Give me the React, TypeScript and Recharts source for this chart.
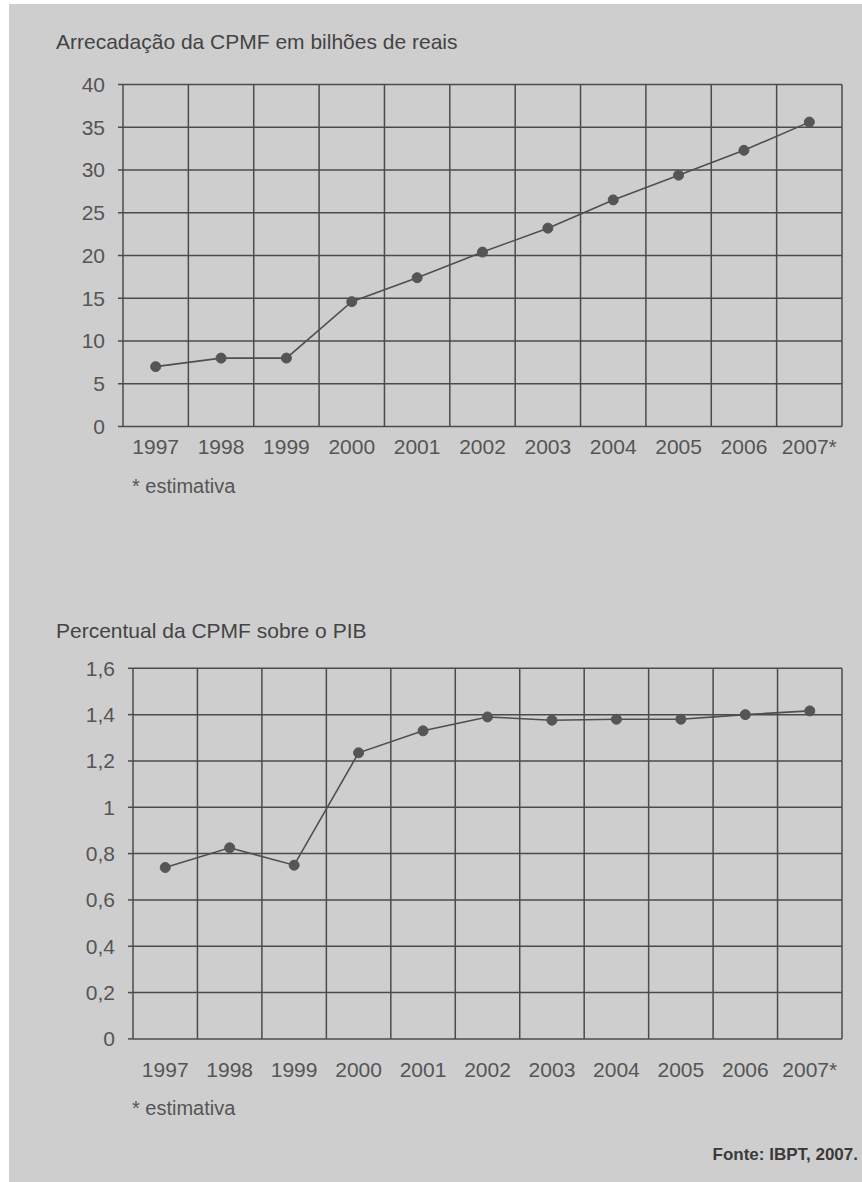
import { LineChart, Line, XAxis, YAxis, CartesianGrid } from 'recharts';

const years = ['1997', '1998', '1999', '2000', '2001', '2002', '2003', '2004', '2005', '2006', '2007*'];
const arrecadacao = [7.0, 8.0, 8.0, 14.6, 17.4, 20.4, 23.2, 26.5, 29.4, 32.3, 35.6];
const percentual = [0.74, 0.825, 0.75, 1.235, 1.33, 1.39, 1.376, 1.38, 1.38, 1.4, 1.416];

const arrecTicks = [0, 5, 10, 15, 20, 25, 30, 35, 40];
const percTicks = [0, 0.2, 0.4, 0.6, 0.8, 1, 1.2, 1.4, 1.6];

// year slots: grid lines on the slot edges, labels and points in the middle
const slotEdges = years.map((_, i) => i).concat(years.length);
const slotMids = years.map((_, i) => i + 0.5);

const arrecData = years.map((ano, i) => ({ ano, pos: slotMids[i], valor: arrecadacao[i] }));
const percData = years.map((ano, i) => ({ ano, pos: slotMids[i], valor: percentual[i] }));

const FONT = '"Liberation Sans", Arial, sans-serif';
const GRID = '#4b4b4b';
const TICK = { fill: '#555', fontSize: 21, fontFamily: FONT };

const yearLabel = (v: number) => years[Math.round(v - 0.5)] ?? '';
const comma = (v: number) => String(Math.round(v * 10) / 10).replace('.', ',');

// vertical grid lines at the slot edges, placed by the x axis scale
const edgeLines = ({ xAxis }: any) => {
  const s = xAxis?.scale;
  if (!s) return [];
  return slotEdges.map((v) => (typeof s === 'function' ? s(v) : s.map(v)));
};

interface PanelProps {
  data: { ano: string; pos: number; valor: number }[];
  ticks: number[];
  max: number;
  top: number;
  height: number;
  margin: { top: number; right: number; bottom: number; left: number };
  labelGap: number;
  yFormat?: (v: number) => string;
}

function Panel({ data, ticks, max, top, height, margin, labelGap, yFormat }: PanelProps) {
  return (
    <div style={{ position: 'absolute', left: 0, top }}>
      <LineChart width={862} height={height} data={data} margin={margin}>
        <CartesianGrid stroke={GRID} strokeWidth={1.5} verticalCoordinatesGenerator={edgeLines} />
        <XAxis
          type="number"
          dataKey="pos"
          domain={[0, years.length]}
          ticks={slotMids}
          interval={0}
          height={40}
          tickFormatter={yearLabel}
          tick={TICK}
          axisLine={false}
          tickLine={false}
          tickSize={0}
          tickMargin={labelGap}
        />
        <YAxis
          type="number"
          domain={[0, max]}
          ticks={ticks}
          interval={0}
          width={60}
          tick={TICK}
          tickFormatter={yFormat}
          axisLine={false}
          tickLine={{ stroke: GRID, strokeWidth: 1.5 }}
          tickSize={5}
          tickMargin={13}
        />
        <Line
          dataKey="valor"
          stroke="#4f4f4f"
          strokeWidth={1.6}
          dot={{ r: 5, fill: '#555', stroke: '#555', strokeWidth: 1 }}
          isAnimationActive={false}
        />
      </LineChart>
    </div>
  );
}

const textBase = { position: 'absolute' as const, fontFamily: FONT, lineHeight: 1, whiteSpace: 'nowrap' as const };

export default function App() {
  return (
    <div style={{ position: 'absolute', left: 0, top: 0, width: 862, height: 1182, background: '#fff' }}>
      <div style={{ position: 'absolute', left: 9, top: 4, right: 0, bottom: 0, background: '#cecece' }} />

      <div style={{ ...textBase, left: 56, top: 30.5, fontSize: 21, color: '#444' }}>
        Arrecadação da CPMF em bilhões de reais
      </div>
      <Panel
        data={arrecData}
        ticks={arrecTicks}
        max={40}
        top={0}
        height={470}
        margin={{ top: 84.5, right: 20, bottom: 3.5, left: 63 }}
        labelGap={13}
      />
      <div style={{ ...textBase, left: 132, top: 476, fontSize: 20, color: '#555' }}>* estimativa</div>

      <div style={{ ...textBase, left: 56, top: 620, fontSize: 21, color: '#444' }}>
        Percentual da CPMF sobre o PIB
      </div>
      <Panel
        data={percData}
        ticks={percTicks}
        max={1.6}
        top={600}
        height={482}
        margin={{ top: 68.3, right: 20, bottom: 3.1, left: 73 }}
        labelGap={23.5}
        yFormat={comma}
      />
      <div style={{ ...textBase, left: 132, top: 1098, fontSize: 20, color: '#555' }}>* estimativa</div>

      <div style={{ ...textBase, right: 4, top: 1145.5, fontSize: 17, fontWeight: 700, color: '#3a3a3a' }}>
        Fonte: IBPT, 2007.
      </div>
    </div>
  );
}
